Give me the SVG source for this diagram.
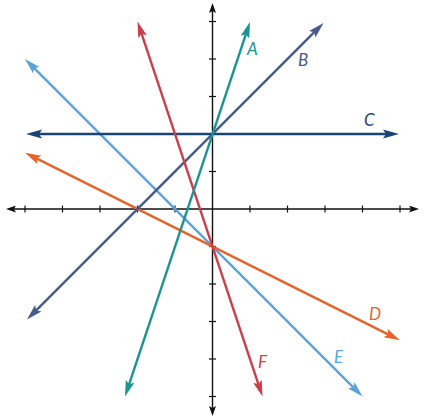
<svg xmlns="http://www.w3.org/2000/svg" width="425" height="419" viewBox="0 0 425 419">
<style>
.axis{stroke:#111;stroke-width:1.4;fill:none}
.tick{stroke:#111;stroke-width:1.2}
.ln{fill:none;stroke-width:2.4}
.lbl{font-family:Lato,"Liberation Sans","DejaVu Sans",sans-serif;font-style:italic;font-weight:400;font-size:17px}
</style>
<defs>
<marker id="ak" viewBox="0 0 10 7" refX="6" refY="3.5" markerWidth="10" markerHeight="7" markerUnits="userSpaceOnUse" orient="auto-start-reverse"><path d="M10,3.5 L0,0 L2,3.5 L0,7 Z" fill="#111"/></marker>
<marker id="mA" viewBox="0 0 16 10" refX="10" refY="5" markerWidth="16" markerHeight="10" markerUnits="userSpaceOnUse" orient="auto-start-reverse"><path d="M16,5 L0,0.5 L3,5 L0,9.5 Z" fill="#1a9591"/></marker>
<marker id="mB" viewBox="0 0 16 10" refX="10" refY="5" markerWidth="16" markerHeight="10" markerUnits="userSpaceOnUse" orient="auto-start-reverse"><path d="M16,5 L0,0.5 L3,5 L0,9.5 Z" fill="#465a8c"/></marker>
<marker id="mC" viewBox="0 0 16 10" refX="10" refY="5" markerWidth="16" markerHeight="10" markerUnits="userSpaceOnUse" orient="auto-start-reverse"><path d="M16,5 L0,0.5 L3,5 L0,9.5 Z" fill="#1b4476"/></marker>
<marker id="mD" viewBox="0 0 16 10" refX="10" refY="5" markerWidth="16" markerHeight="10" markerUnits="userSpaceOnUse" orient="auto-start-reverse"><path d="M16,5 L0,0.5 L3,5 L0,9.5 Z" fill="#e8632b"/></marker>
<marker id="mE" viewBox="0 0 16 10" refX="10" refY="5" markerWidth="16" markerHeight="10" markerUnits="userSpaceOnUse" orient="auto-start-reverse"><path d="M16,5 L0,0.5 L3,5 L0,9.5 Z" fill="#5ea3d6"/></marker>
<marker id="mF" viewBox="0 0 16 10" refX="10" refY="5" markerWidth="16" markerHeight="10" markerUnits="userSpaceOnUse" orient="auto-start-reverse"><path d="M16,5 L0,0.5 L3,5 L0,9.5 Z" fill="#c9404b"/></marker>
</defs>
<rect width="425" height="419" fill="#fff"/>
<g id="axes">
<line class="axis" x1="10" y1="209" x2="415" y2="209" marker-start="url(#ak)" marker-end="url(#ak)"/>
<line class="axis" x1="212.5" y1="7" x2="212.5" y2="412" marker-start="url(#ak)" marker-end="url(#ak)"/>
<g class="tick">
<line x1="25" y1="205.5" x2="25" y2="212.5"/>
<line x1="62.5" y1="205.5" x2="62.5" y2="212.5"/>
<line x1="100" y1="205.5" x2="100" y2="212.5"/>
<line x1="137.5" y1="205.5" x2="137.5" y2="212.5"/>
<line x1="175" y1="205.5" x2="175" y2="212.5"/>
<line x1="250" y1="205.5" x2="250" y2="212.5"/>
<line x1="287.5" y1="205.5" x2="287.5" y2="212.5"/>
<line x1="325" y1="205.5" x2="325" y2="212.5"/>
<line x1="362.5" y1="205.5" x2="362.5" y2="212.5"/>
<line x1="400" y1="205.5" x2="400" y2="212.5"/>
<line x1="209" y1="21.5" x2="216" y2="21.5"/>
<line x1="209" y1="59" x2="216" y2="59"/>
<line x1="209" y1="96.5" x2="216" y2="96.5"/>
<line x1="209" y1="134" x2="216" y2="134"/>
<line x1="209" y1="171.5" x2="216" y2="171.5"/>
<line x1="209" y1="246.5" x2="216" y2="246.5"/>
<line x1="209" y1="284" x2="216" y2="284"/>
<line x1="209" y1="321.5" x2="216" y2="321.5"/>
<line x1="209" y1="359" x2="216" y2="359"/>
<line x1="209" y1="396.5" x2="216" y2="396.5"/>
</g>
</g>
<g id="connectors">
<line id="lineE" class="ln" stroke="#5ea3d6" x1="29.2" y1="63.2" x2="358.3" y2="392.3" marker-start="url(#mE)" marker-end="url(#mE)"/>
<line id="lineD" class="ln" stroke="#e8632b" x1="30.4" y1="155.4" x2="394.6" y2="337.6" marker-start="url(#mD)" marker-end="url(#mD)"/>
<line id="lineB" class="ln" stroke="#465a8c" x1="31.2" y1="315.3" x2="319.3" y2="27.2" marker-start="url(#mB)" marker-end="url(#mB)"/>
<line id="lineC" class="ln" stroke="#1b4476" stroke-width="3" x1="32" y1="134" x2="393" y2="134" marker-start="url(#mC)" marker-end="url(#mC)"/>
<line id="lineF" class="ln" stroke="#c9404b" x1="139.4" y1="27.2" x2="260.6" y2="390.8" marker-start="url(#mF)" marker-end="url(#mF)"/>
<line id="lineA" class="ln" stroke="#1a9591" x1="126.9" y1="390.8" x2="248.1" y2="27.7" marker-start="url(#mA)" marker-end="url(#mA)"/>
</g>
<g id="labels">
<g id="labelA"><text class="lbl" x="247" y="55" fill="#1a9591">A</text></g>
<g id="labelB"><text class="lbl" x="298" y="66" fill="#465a8c">B</text></g>
<g id="labelC"><text class="lbl" x="364" y="126" fill="#1b4476">C</text></g>
<g id="labelD"><text class="lbl" x="369" y="320" fill="#e8632b">D</text></g>
<g id="labelE"><text class="lbl" x="334" y="363" fill="#5ea3d6">E</text></g>
<g id="labelF"><text class="lbl" x="258" y="368" fill="#c9404b">F</text></g>
</g>
</svg>
